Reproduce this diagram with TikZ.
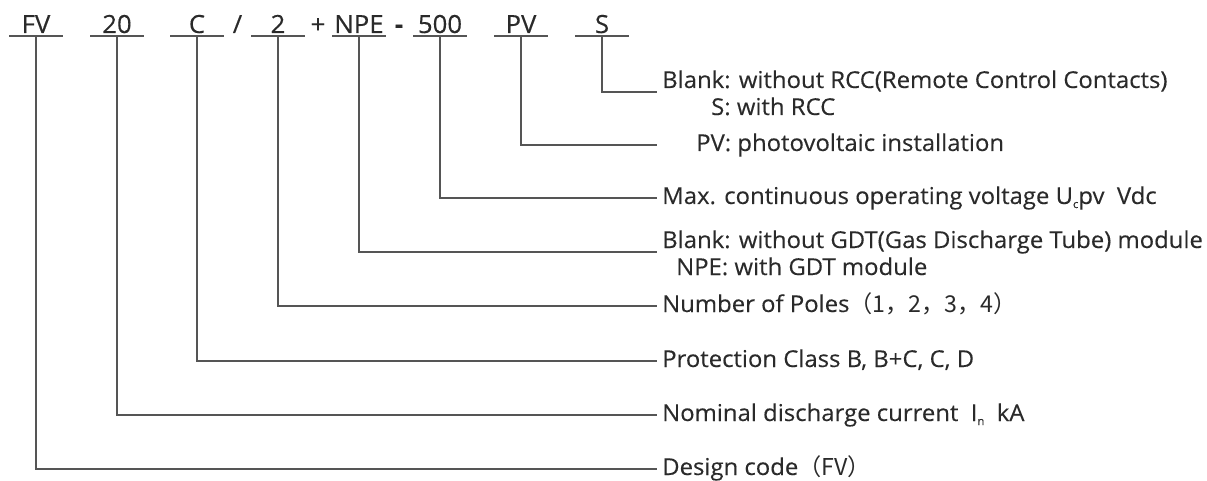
\documentclass[tikz,border=0pt]{standalone}
\usepackage{fontspec}
\setmainfont{Open Sans}[FakeStretch=1.03, FakeBold=0.25]
\newfontfamily\cjkfont{Noto Sans CJK SC}
\usetikzlibrary{calc}
\definecolor{txt}{HTML}{2A2A2A}
\definecolor{ln}{HTML}{555555}
\newcommand{\lowsub}[1]{\raisebox{-4pt}{\fontsize{11}{11}\selectfont #1}}
\begin{document}
\begin{tikzpicture}[x=1pt,y=-1pt,
  code/.style={font=\fontsize{25}{27}\selectfont, text=txt, anchor=base, inner sep=0pt},
  sep/.style={font=\fontsize{25}{27}\selectfont, text=txt, anchor=base, inner sep=0pt},
  lbl/.style={font=\fontsize{23.2}{26}\selectfont, text=txt, anchor=base west, inner sep=0pt},
  conn/.style={draw=ln, line width=1.3pt},
]
\useasboundingbox (0,0) rectangle (1207,481);
% code items: index / x / text / line y
\foreach \i/\x/\t/\yy in {1/36/FV/469, 2/117/20/415, 3/197/C/361, 4/278/2/306,
  5/359/NPE/252, 6/440/500/198, 7/521/PV/145, 8/602/S/92}{
  \node[code] (k\i) at (\x,33) {\t};
  \coordinate (u\i) at (\x,36);
  \draw[conn] ($(u\i)+(-27,0)$) -- ($(u\i)+(27,0)$);
  \coordinate (e\i) at (657,\yy);
  \draw[conn] (u\i) |- (e\i);
}
\node[sep] (s1) at (237.5,33) {/};
\node[sep] (s2) at (318,33) {+};
\node[sep] (s3) at (399,33) {\textbf{-}};
% labels
\node[lbl] (l8) at (662,88) {Blank: without RCC(Remote Control Contacts)};
\node[lbl] (l8b) at (711,115) {S: with RCC};
\node[lbl] (l7) at (696,151) {PV: photovoltaic installation};
\node[lbl] (l6) at (662,204) {Max. continuous operating voltage U\lowsub{c}pv\ \ Vdc};
\node[lbl] (l5) at (662,248) {Blank: without GDT(Gas Discharge Tube) module};
\node[lbl] (l5b) at (676,275) {NPE: with GDT module};
\node[lbl] (l4) at (662,312) {Number of Poles{\cjkfont（1，2，3，4）}};
\node[lbl] (l3) at (662,367) {Protection Class B, B+C, C, D};
\node[lbl] (l2) at (662,421) {Nominal discharge current\ \ I\lowsub{n}\ \ kA};
\node[lbl] (l1) at (662,475) {Design code{\cjkfont（FV）}};
\end{tikzpicture}
\end{document}
